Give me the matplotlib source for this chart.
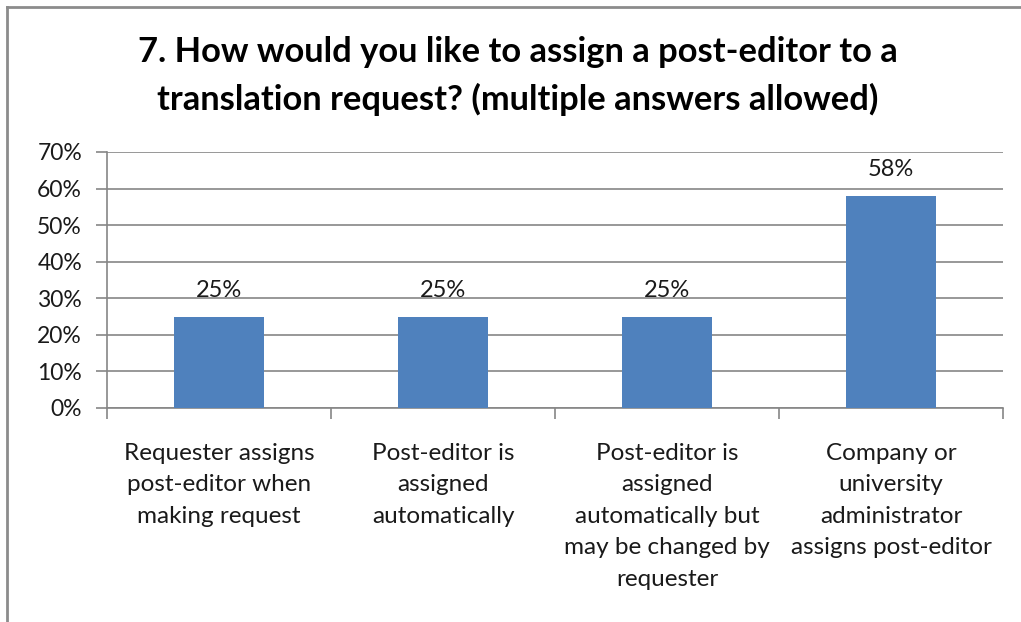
import matplotlib.pyplot as plt
from matplotlib.lines import Line2D

categories = [
    "Requester assigns\npost-editor when\nmaking request",
    "Post-editor is\nassigned\nautomatically",
    "Post-editor is\nassigned\nautomatically but\nmay be changed by\nrequester",
    "Company or\nuniversity\nadministrator\nassigns post-editor",
]
values = [25, 25, 25, 58]
yticks = [0, 10, 20, 30, 40, 50, 60, 70]
title = "7. How would you like to assign a post-editor to a\ntranslation request? (multiple answers allowed)"

plt.rcParams['font.family'] = ['Lato', 'DejaVu Sans']

W, H = 1021, 622
fig = plt.figure(figsize=(W / 100, H / 100), dpi=100)
ax = fig.add_axes([107 / W, 1 - 408 / H, (1003 - 107) / W, (408 - 152) / H])

grid_c = '#868686'
text_c = '#1a1a1a'

x = list(range(len(values)))
ax.bar(x, values, width=0.4, color='#4F81BD', zorder=3)
for xi, v in zip(x, values):
    ax.annotate(f"{v}%", (xi, v), xytext=(0, 19), textcoords='offset points',
                ha='center', va='center', fontsize=17, color=text_c)

ax.set_xlim(-0.5, len(values) - 0.5)
ax.set_ylim(0, 70)
ax.set_yticks(yticks)
ax.set_yticklabels([f"{t}%" for t in yticks], fontsize=16.5, color=text_c)
ax.yaxis.grid(True, color=grid_c, linewidth=1.2, zorder=0)
ax.tick_params(axis='y', length=8, color=grid_c, width=1.2, pad=10)

# category boundaries as ticks, labels in between
ax.set_xticks([i - 0.5 for i in range(len(values) + 1)])
ax.set_xticklabels([])
ax.set_xticks(x, minor=True)
ax.set_xticklabels(categories, minor=True, fontsize=17.5, color=text_c, linespacing=1.62)
ax.tick_params(axis='x', which='major', length=8, color=grid_c, width=1.2, direction='out')
ax.tick_params(axis='x', which='minor', length=0, pad=25)

for s in ['top', 'right']:
    ax.spines[s].set_visible(False)
for s in ['left', 'bottom']:
    ax.spines[s].set_color(grid_c)
    ax.spines[s].set_linewidth(1.2)

fig.text(518 / W, 1 - 76 / H, title, ha='center', va='center', fontsize=24.8,
         fontweight='bold', color='black', linespacing=1.52)

# chart frame (left and top edges visible)
fig.add_artist(Line2D([7 / W, 7 / W], [0, 1 - 7 / H], transform=fig.transFigure, color='#8c8c8c', lw=2))
fig.add_artist(Line2D([7 / W, 1020 / W], [1 - 7 / H, 1 - 7 / H], transform=fig.transFigure, color='#8c8c8c', lw=2))

fig.savefig('out.png', dpi=100, facecolor='white')
